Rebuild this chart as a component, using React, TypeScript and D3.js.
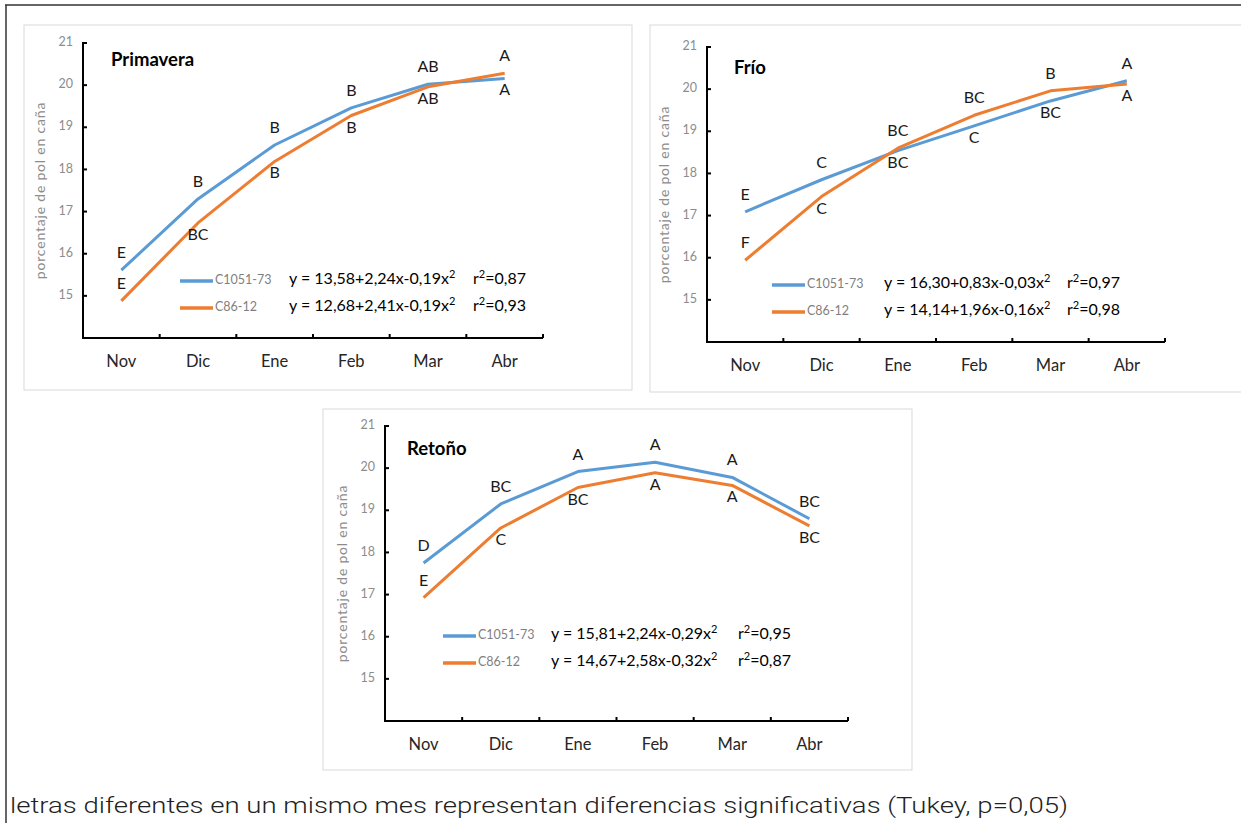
import React from "react";
import * as d3 from "d3";

// months on the x axis
const months = ["Nov", "Dic", "Ene", "Feb", "Mar", "Abr"];
const yTicks = [15, 16, 17, 18, 19, 20, 21];
const cultivars = ["C1051-73", "C86-12"];

// porcentaje de pol en caña
const primaveraC1051 = [15.61, 17.3, 18.58, 19.46, 20.02, 20.16];
const primaveraC86 = [14.88, 16.73, 18.19, 19.28, 19.96, 20.28];
const frioC1051 = [17.09, 17.85, 18.54, 19.13, 19.72, 20.2];
const frioC86 = [15.94, 17.45, 18.6, 19.38, 19.96, 20.12];
const retonoC1051 = [17.75, 19.15, 19.92, 20.14, 19.78, 18.8];
const retonoC86 = [16.93, 18.58, 19.54, 19.89, 19.59, 18.63];

// Tukey letters
const primaveraLet1051 = ["E", "B", "B", "B", "AB", "A"];
const primaveraLet86 = ["E", "BC", "B", "B", "AB", "A"];
const frioLet1051 = ["E", "C", "BC", "C", "BC", "A"];
const frioLet86 = ["F", "C", "BC", "BC", "B", "A"];
const retonoLet1051 = ["D", "BC", "A", "A", "A", "BC"];
const retonoLet86 = ["E", "C", "BC", "A", "A", "BC"];

// fitted equations
const primaveraEq = ["y = 13,58+2,24x-0,19x", "y = 12,68+2,41x-0,19x"];
const primaveraR2 = ["0,87", "0,93"];
const frioEq = ["y = 16,30+0,83x-0,03x", "y = 14,14+1,96x-0,16x"];
const frioR2 = ["0,97", "0,98"];
const retonoEq = ["y = 15,81+2,24x-0,29x", "y = 14,67+2,58x-0,32x"];
const retonoR2 = ["0,95", "0,87"];

const colors = ["#5B9BD5", "#ED7D31"];
const FONT = "Lato, 'Open Sans', sans-serif";

type PanelProps = {
  title: string;
  series: number[][];
  letters: string[][];
  eqs: string[];
  r2: string[];
  card: { x: number; y: number; w: number; h: number };
  plot: { x0: number; x1: number; yTop: number; yBot: number };
  titlePos: [number, number];
  legend: { lx: number; ly: number; eqx: number; r2x: number };
};

const Panel = (props: PanelProps) => {
  const { title, series, letters, eqs, r2, card, plot, titlePos, legend } = props;

  const x = d3.scaleBand().domain(months).range([plot.x0, plot.x1]).padding(0);
  const y = d3.scaleLinear().domain([14, 21]).range([plot.yBot, plot.yTop]);
  const cx = (m: string) => (x(m) as number) + x.bandwidth() / 2;

  const line = d3
    .line<number>()
    .x((d, i) => cx(months[i]))
    .y((d) => y(d));

  return (
    <g>
      <rect x={card.x} y={card.y} width={card.w} height={card.h} fill="#fff" stroke="#d9d9d9" strokeWidth={1} />

      {/* y axis */}
      <line x1={plot.x0} x2={plot.x0} y1={plot.yTop - 1} y2={plot.yBot} stroke="#000" strokeWidth={2} />
      {yTicks.map((t) => (
        <g key={t}>
          <line x1={plot.x0} x2={plot.x0 + 4} y1={y(t)} y2={y(t)} stroke="#000" strokeWidth={2} />
          <text x={plot.x0 - 10} y={y(t)} textAnchor="end" dominantBaseline="middle" fontSize={12.5} fill="#8c8c8c" fontFamily={FONT}>
            {t}
          </text>
        </g>
      ))}
      <text
        transform={`translate(${plot.x0 - 42},${(plot.yTop + plot.yBot) / 2}) rotate(-90)`}
        textAnchor="middle"
        dominantBaseline="middle"
        fontSize={14}
        letterSpacing={0.8}
        fill="#8c8c8c"
        fontFamily={FONT}
      >
        porcentaje de pol en caña
      </text>

      {/* x axis */}
      <line x1={plot.x0 - 1} x2={plot.x1} y1={plot.yBot} y2={plot.yBot} stroke="#000" strokeWidth={2} />
      {months.map((m) => (
        <g key={m}>
          <line
            x1={(x(m) as number) + x.bandwidth()}
            x2={(x(m) as number) + x.bandwidth()}
            y1={plot.yBot}
            y2={plot.yBot - 4}
            stroke="#000"
            strokeWidth={2}
          />
          <text x={cx(m)} y={plot.yBot + 25} textAnchor="middle" dominantBaseline="middle" fontSize={16.5} fill="#262626" fontFamily={FONT}>
            {m}
          </text>
        </g>
      ))}

      <text x={titlePos[0]} y={titlePos[1]} dominantBaseline="middle" fontSize={18.5} fontWeight="bold" fill="#000" fontFamily={FONT}>
        {title}
      </text>

      {series.map((s, k) => (
        <path key={k} d={line(s) || ""} fill="none" stroke={colors[k]} strokeWidth={3} strokeLinejoin="round" />
      ))}

      {/* letters: higher series above, lower below (Nov both above) */}
      {series.map((s, k) =>
        s.map((v, i) => {
          const other = series[1 - k][i];
          const above = v >= other || i === 0;
          return (
            <text
              key={`${k}-${i}`}
              x={cx(months[i])}
              y={y(v) + (above ? -16 : 13)}
              textAnchor="middle"
              dominantBaseline="middle"
              fontSize={16}
              fill="#1a1a1a"
              fontFamily={FONT}
            >
              {letters[k][i]}
            </text>
          );
        })
      )}

      {/* legend with equations */}
      {cultivars.map((c, k) => {
        const ly = legend.ly + k * 27;
        return (
          <g key={c}>
            <line x1={legend.lx} x2={legend.lx + 33} y1={ly} y2={ly} stroke={colors[k]} strokeWidth={3.5} />
            <text x={legend.lx + 35} y={ly} dominantBaseline="middle" fontSize={12.5} fill="#7f7f7f" fontFamily={FONT}>
              {c}
            </text>
            <text x={legend.eqx} y={ly - 1} dominantBaseline="middle" fontSize={16} fill="#000" fontFamily={FONT}>
              {eqs[k]}
              <tspan fontSize={11} dy={-5}>2</tspan>
            </text>
            <text x={legend.r2x} y={ly - 1} dominantBaseline="middle" fontSize={16} fill="#000" fontFamily={FONT}>
              r<tspan fontSize={11} dy={-5}>2</tspan>
              <tspan dy={5}>={r2[k]}</tspan>
            </text>
          </g>
        );
      })}
    </g>
  );
};

export default function App() {
  return (
    <svg
      width={1241}
      height={823}
      style={{ position: "absolute", left: 0, top: 0, background: "#fff" }}
    >
      <rect x={0} y={0} width={1241} height={823} fill="#fff" />
      <line x1={5} x2={1241} y1={5} y2={5} stroke="#333" strokeWidth={1.5} />
      <line x1={6} x2={6} y1={5} y2={823} stroke="#333" strokeWidth={1.5} />

      <Panel
        title="Primavera"
        series={[primaveraC1051, primaveraC86]}
        letters={[primaveraLet1051, primaveraLet86]}
        eqs={primaveraEq}
        r2={primaveraR2}
        card={{ x: 24, y: 25, w: 608, h: 365 }}
        plot={{ x0: 83, x1: 543, yTop: 43, yBot: 338 }}
        titlePos={[111, 61]}
        legend={{ lx: 180, ly: 281, eqx: 289, r2x: 473 }}
      />
      <Panel
        title="Frío"
        series={[frioC1051, frioC86]}
        letters={[frioLet1051, frioLet86]}
        eqs={frioEq}
        r2={frioR2}
        card={{ x: 650, y: 25, w: 600, h: 367 }}
        plot={{ x0: 707, x1: 1165, yTop: 47, yBot: 342 }}
        titlePos={[734, 69]}
        legend={{ lx: 772, ly: 285, eqx: 884, r2x: 1067 }}
      />
      <Panel
        title="Retoño"
        series={[retonoC1051, retonoC86]}
        letters={[retonoLet1051, retonoLet86]}
        eqs={retonoEq}
        r2={retonoR2}
        card={{ x: 323, y: 409, w: 589, h: 361 }}
        plot={{ x0: 385, x1: 848, yTop: 426, yBot: 721 }}
        titlePos={[407, 450]}
        legend={{ lx: 443, ly: 636, eqx: 551, r2x: 738 }}
      />

      <text
        x={10}
        y={807}
        dominantBaseline="middle"
        fontSize={22}
        fontWeight={300}
        fill="#222"
        fontFamily="Roboto, 'Liberation Sans', sans-serif"
        textLength={1058}
        lengthAdjust="spacingAndGlyphs"
      >
        letras diferentes en un mismo mes representan diferencias significativas (Tukey, p=0,05)
      </text>
    </svg>
  );
}
